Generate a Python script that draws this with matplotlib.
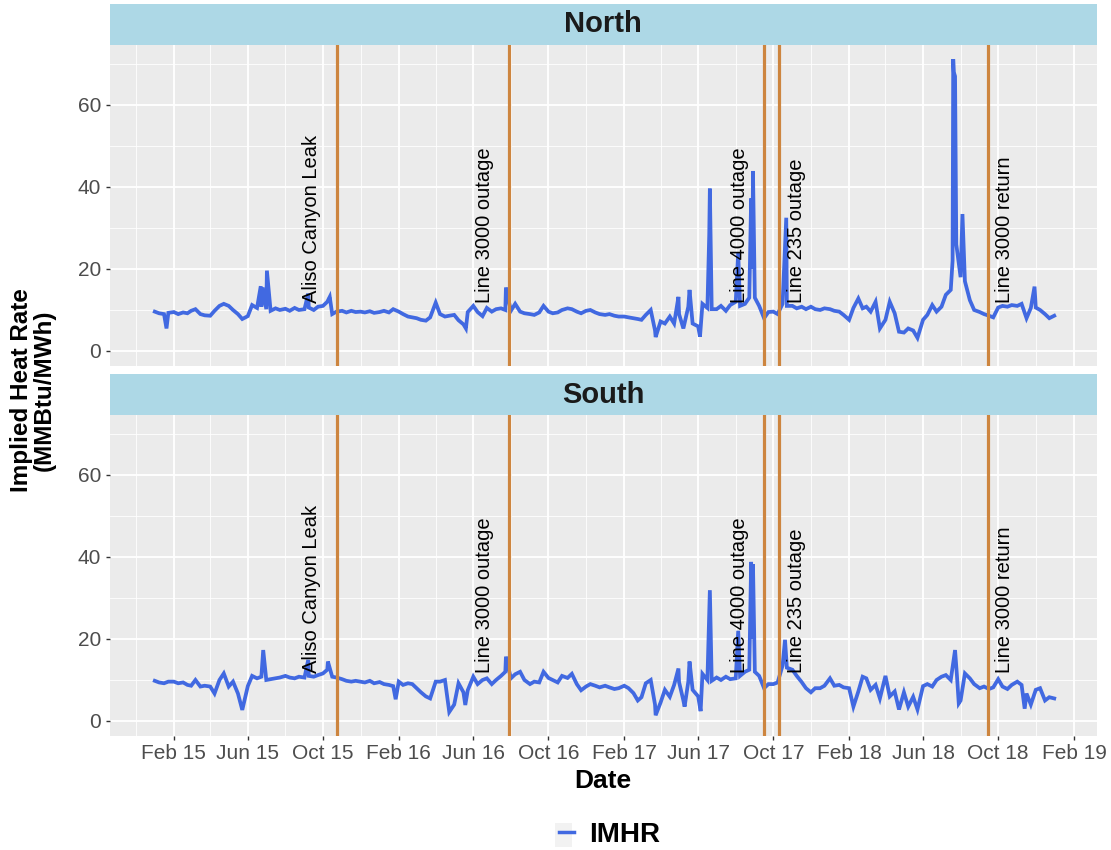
import pandas as pd
import matplotlib
matplotlib.use('Agg')
import matplotlib.pyplot as plt
import matplotlib.dates as mdates
from matplotlib.lines import Line2D
from matplotlib.patches import Rectangle

plt.rcParams['font.family'] = ['Liberation Sans', 'DejaVu Sans']

# --- dados: 4 valores por mes (dias 1, 8, 16, 23) ---
north_2015 = [9.6, 9.2, 9.0, 9.3, 9.5, 9.0, 9.4, 9.2, 9.8, 10.2, 9.0, 8.7,
              8.6, 9.8, 11.0, 11.5, 11.0, 10.0, 9.0, 7.8, 8.5, 11.2, 10.5, 10.8,
              10.2, 9.8, 10.4, 10.0, 10.3, 9.8, 10.5, 10.0, 10.2, 10.6, 10.0, 10.8,
              11.0, 12.0, 9.0, 9.6, 9.8, 9.4, 9.8, 9.5, 9.6, 9.4, 9.7, 9.3]
north_2016 = [9.5, 9.8, 9.4, 10.2, 9.6, 9.0, 8.4, 8.2, 8.0, 7.6, 7.4, 8.2,
              11.8, 9.0, 8.4, 8.6, 8.8, 7.5, 6.5, 9.5, 11.0, 9.5, 8.5, 10.5,
              9.6, 10.2, 10.4, 10.0, 9.8, 11.5, 9.6, 9.2, 9.0, 8.8, 9.4, 11.0,
              9.6, 9.2, 9.4, 10.0, 10.4, 10.2, 9.6, 9.2, 9.8, 10.0, 9.4, 9.0]
north_2017 = [8.8, 9.0, 8.6, 8.4, 8.4, 8.2, 8.0, 7.8, 7.6, 8.8, 10.0, 5.0,
              7.2, 6.7, 8.4, 6.7, 9.0, 5.5, 10.8, 6.7, 6.0, 11.5, 10.5, 10.2,
              10.2, 11.0, 9.8, 11.2, 12.0, 11.0, 11.5, 13.0, 13.0, 11.0, 8.0, 9.5,
              9.6, 9.0, 11.5, 11.0, 11.0, 10.4, 10.8, 10.2, 10.8, 10.2, 10.0, 10.4]
north_2018 = [10.2, 9.8, 9.6, 8.8, 7.6, 10.5, 12.8, 10.4, 10.8, 9.6, 12.0, 5.5,
              7.6, 12.0, 9.2, 4.7, 4.5, 5.5, 5.0, 3.2, 7.6, 8.8, 11.2, 9.6,
              10.8, 13.7, 14.9, 67.0, 18.0, 17.0, 12.4, 10.0, 9.5, 9.0, 8.6, 8.2,
              10.6, 11.0, 10.8, 11.2, 11.0, 11.5, 8.0, 10.5, 10.6, 10.0, 9.0, 8.0]

south_2015 = [9.8, 9.4, 9.2, 9.6, 9.6, 9.2, 9.4, 8.8, 8.6, 10.0, 8.4, 8.6,
              8.4, 6.7, 10.0, 11.6, 8.4, 9.6, 6.7, 2.7, 8.5, 11.0, 10.4, 10.8,
              10.0, 10.2, 10.4, 10.6, 11.0, 10.6, 10.4, 10.8, 10.6, 11.0, 10.8, 11.2,
              11.6, 12.5, 10.8, 10.6, 10.2, 9.8, 9.6, 9.8, 9.6, 9.4, 9.8, 9.2]
south_2016 = [9.5, 9.0, 8.8, 8.5, 9.6, 8.8, 9.2, 9.0, 8.0, 7.0, 6.0, 5.5,
              9.6, 9.6, 10.0, 2.2, 4.0, 9.2, 7.0, 7.5, 10.8, 9.0, 10.0, 10.4,
              9.0, 10.0, 11.0, 12.0, 10.4, 11.4, 12.0, 10.0, 9.0, 9.6, 9.4, 12.0,
              10.5, 10.0, 9.4, 11.0, 10.5, 11.5, 9.0, 7.5, 8.4, 9.0, 8.6, 8.2]
south_2017 = [8.6, 8.2, 7.8, 8.0, 8.6, 8.0, 6.8, 5.0, 5.8, 9.2, 10.0, 4.0,
              4.5, 7.6, 5.9, 8.8, 9.5, 5.0, 9.6, 7.6, 6.0, 11.5, 10.0, 9.8,
              10.6, 10.0, 10.8, 10.2, 10.4, 11.0, 12.0, 12.5, 12.0, 11.0, 8.0, 9.0,
              9.0, 9.4, 13.5, 13.0, 12.5, 11.0, 9.5, 8.0, 7.0, 8.0, 8.0, 8.6]
south_2018 = [10.4, 8.6, 8.8, 8.2, 8.0, 3.5, 7.2, 10.8, 10.4, 7.6, 8.8, 5.5,
              11.0, 6.0, 7.2, 2.8, 7.0, 3.5, 5.9, 2.8, 8.5, 9.0, 8.4, 10.0,
              10.8, 11.2, 10.0, 17.3, 5.0, 11.6, 10.4, 9.0, 8.0, 8.4, 7.8, 8.2,
              10.2, 8.4, 7.8, 8.8, 9.6, 8.8, 6.7, 4.0, 7.6, 8.0, 5.0, 5.8]

# picos e vales entre os pontos semanais
north_spike_dates = ['2015-01-20', '2015-06-22', '2015-06-25', '2015-07-02', '2015-09-07',
                     '2015-10-12', '2016-05-20', '2016-07-24', '2017-03-24', '2017-04-30',
                     '2017-05-18', '2017-06-04', '2017-06-19', '2017-06-20', '2017-08-05',
                     '2017-08-26', '2017-08-28', '2017-08-29', '2017-10-22', '2018-07-19',
                     '2018-07-20', '2018-07-21', '2018-07-25', '2018-08-04', '2018-11-29',
                     '2018-12-31']
north_spike_vals = [5.5, 15.8, 15.5, 19.6, 14.0,
                    13.2, 5.5, 15.5, 3.4, 13.2,
                    14.9, 3.5, 28.5, 39.6, 24.0,
                    37.2, 20.0, 43.9, 32.5, 22.0,
                    71.2, 68.0, 26.0, 33.4, 15.7,
                    8.6]

south_spike_dates = ['2015-06-26', '2015-09-07', '2015-10-09', '2016-01-27', '2016-05-19',
                     '2016-07-24', '2017-03-24', '2017-04-30', '2017-05-10', '2017-05-18',
                     '2017-06-05', '2017-06-20', '2017-08-05', '2017-08-26', '2017-08-28',
                     '2017-08-29', '2017-10-20', '2018-07-26', '2018-07-29', '2018-11-13',
                     '2018-12-31']
south_spike_vals = [17.3, 14.9, 14.5, 5.3, 3.9,
                    15.7, 1.4, 12.8, 3.5, 14.5,
                    2.4, 31.9, 22.0, 38.8, 20.0,
                    38.2, 19.8, 11.2, 4.3, 3.0,
                    5.5]

# eventos
event_dates = ['2015-10-23', '2016-07-29', '2017-09-16', '2017-10-10', '2018-09-15']
event_labels = ['Aliso Canyon Leak', 'Line 3000 outage', 'Line 4000 outage',
                'Line 235 outage', 'Line 3000 return']
label_dates = ['2015-09-12', '2016-06-19', '2017-08-07', '2017-11-08', '2018-10-12']
label_y = 11.8

regions = ['North', 'South']


def monta_serie(anos, spike_dates, spike_vals):
    vals = sum(anos, [])
    meses = pd.date_range('2015-01-01', periods=48, freq='MS')
    datas = [m + pd.Timedelta(days=d) for m in meses for d in (0, 7, 15, 22)]
    df = pd.DataFrame({'date': datas + list(pd.to_datetime(spike_dates)),
                       'value': vals + spike_vals})
    return df.sort_values('date', kind='stable')


series = {
    'North': monta_serie([north_2015, north_2016, north_2017, north_2018],
                         north_spike_dates, north_spike_vals),
    'South': monta_serie([south_2015, south_2016, south_2017, south_2018],
                         south_spike_dates, south_spike_vals),
}

W, H = 1111, 850
fig = plt.figure(figsize=(W / 100, H / 100), dpi=100)

left, right = 109.5, 1097
# (topo da faixa, topo do painel, base do painel) em pixels
layout = {'North': (4, 45, 366), 'South': (374, 415, 736)}

xmin = mdates.date2num(pd.Timestamp('2015-02-01')) - 104.5
xmax = mdates.date2num(pd.Timestamp('2015-02-01')) + 1498.4

linha_cor = '#4169E1'
evento_cor = '#CD853F'

for reg in regions:
    s_top, p_top, p_bot = layout[reg]
    ax = fig.add_axes([left / W, 1 - p_bot / H, (right - left) / W, (p_bot - p_top) / H])
    ax.set_facecolor('#EBEBEB')
    for sp in ax.spines.values():
        sp.set_visible(False)

    df = series[reg]
    ax.plot(df['date'], df['value'], color=linha_cor, lw=2.7, zorder=3,
            solid_joinstyle='miter')

    for d in event_dates:
        ax.axvline(pd.Timestamp(d), color=evento_cor, lw=2.3, zorder=4)
    for d, lab in zip(label_dates, event_labels):
        ax.text(pd.Timestamp(d), label_y, lab, rotation=90, ha='center', va='bottom',
                fontsize=14.5, color='black', zorder=5)

    ax.set_xlim(xmin, xmax)
    ax.set_ylim(-3.66, 74.63)
    ax.set_yticks([0, 20, 40, 60])
    ax.set_yticks([10, 30, 50, 70], minor=True)
    ax.xaxis.set_major_locator(mdates.MonthLocator(bymonth=[2, 6, 10]))
    ax.xaxis.set_minor_locator(mdates.MonthLocator(bymonth=[4, 8, 12]))
    ax.xaxis.set_major_formatter(mdates.DateFormatter('%b %y'))
    ax.grid(which='major', color='white', lw=1.3, zorder=0)
    ax.grid(which='minor', color='white', lw=0.6, zorder=0)
    ax.set_axisbelow(True)
    ax.tick_params(axis='both', which='major', length=3, width=1, color='#333333',
                   labelcolor='#4D4D4D', labelsize=15, pad=3)
    ax.tick_params(axis='both', which='minor', length=0)
    if reg == 'North':
        ax.tick_params(axis='x', which='major', length=0, labelbottom=False)

    # faixa do facet
    sax = fig.add_axes([left / W, 1 - p_top / H, (right - left) / W, (p_top - s_top) / H])
    sax.set_facecolor('#ADD8E6')
    sax.set_xticks([])
    sax.set_yticks([])
    for sp in sax.spines.values():
        sp.set_visible(False)
    sax.text(0.5, 0.5, reg, ha='center', va='center', fontsize=21, fontweight='bold',
             color='#1A1A1A', transform=sax.transAxes)

fig.text((left + right) / 2 / W, 1 - 781 / H, 'Date', ha='center', va='center',
         fontsize=19, fontweight='bold')
fig.text(33 / W, 1 - 390 / H, 'Implied Heat Rate\n(MMBtu/MWh)', rotation=90,
         ha='center', va='center', multialignment='center', fontsize=17.5,
         fontweight='bold', linespacing=1.0)

# legenda
fig.patches.append(Rectangle((555 / W, 1 - 847 / H), 17 / W, 24 / H,
                             transform=fig.transFigure, facecolor='#F2F2F2',
                             edgecolor='none'))
leg = fig.legend(handles=[Line2D([], [], color=linha_cor, lw=2.5)], labels=['IMHR'],
                 loc='center left', bbox_to_anchor=(534 / W, 1 - 835 / H), frameon=False,
                 handlelength=0.55, handletextpad=0.55,
                 prop={'weight': 'bold', 'size': 20})

fig.savefig('out.png', dpi=100)
